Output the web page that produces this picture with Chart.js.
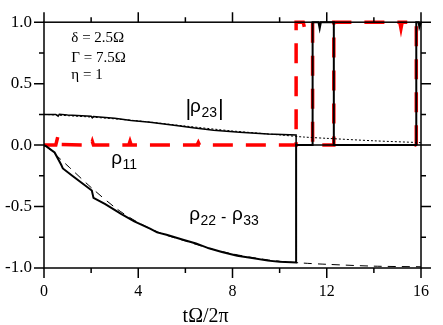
<!DOCTYPE html>
<html>
<head>
<meta charset="utf-8">
<script src="https://cdn.jsdelivr.net/npm/chart.js@4/dist/chart.umd.min.js"></script>
<style>
html,body{margin:0;padding:0;background:#fff;}
canvas{display:block;}
</style>
</head>
<body>
<canvas id="c" width="443" height="325"></canvas>
<script>
// ---- data ----
const xTicks = [0, 4, 8, 12, 16];
const yTicks = [-1.0, -0.5, 0.0, 0.5, 1.0];

// rho22 - rho33 (simulation, solid thick black)
const diffT = [0,0.1,0.45,0.73,0.8,1.2,2.03,2.1,2.6,3.27,3.83,4.5,4.8,5.2,5.9,6.45,7.0,7.55,8.2,8.9,9.5,10.0,10.7,10.7,11.4,11.4,11.65,11.7,11.75,12.3,12.3,15.8,15.8,15.9,15.93,16];
const diffV = [0,-0.01,-0.06,-0.16,-0.19,-0.25,-0.37,-0.43,-0.48,-0.56,-0.62,-0.68,-0.71,-0.73,-0.77,-0.80,-0.84,-0.87,-0.90,-0.92,-0.94,-0.95,-0.955,0,0,1,1,0.95,1,1,0,0,1,1,0.96,1];

// |rho23| (simulation, solid black)
const cohT = [0,0.5,0.6,0.65,1.0,2.0,2.05,2.1,3.0,3.7,4.5,5.6,6.4,7.2,8.3,9.5,10.7,10.7,16];
const cohV = [0.25,0.25,0.235,0.25,0.245,0.235,0.222,0.232,0.218,0.20,0.185,0.16,0.14,0.12,0.105,0.09,0.083,0,0];

// rho11 (red dashed)
const r11T = [0,0.5,0.6,0.68,2.0,2.05,2.1,3.6,3.65,3.7,6.5,6.55,6.6,10.7,10.7,11.0,11.05,11.1,11.4,11.4,12.3,12.3,15.1,15.15,15.2,15.8,15.8,16];
const r11V = [0,0,0.08,0.005,0,0.03,0,0,0.03,0,0,0.02,0,0,1,1,0.96,1,1,0,0,1,1,0.95,1,1,0,0];

// |rho23| analytic (dotted)
const cohAT = [0,2,4,6,8,10,11,12,14,16];
const cohAV = [0.25,0.228,0.197,0.155,0.115,0.083,0.066,0.055,0.035,0.02];

// rho22 - rho33 analytic (dashed)
const diffAT = [0,0.1,1.07,2.03,3.1,4.0,5.0,6.0,7.0,8.0,9.0,10.0,11.0,12.0,14.0,16.0];
const diffAV = [0,-0.01,-0.18,-0.35,-0.52,-0.63,-0.72,-0.78,-0.84,-0.885,-0.92,-0.945,-0.96,-0.97,-0.985,-0.99];

const pts = (t, v) => t.map((x, i) => ({x: x, y: v[i]}));

const serif = "'Liberation Serif','Times New Roman',serif";
const sans = "'Liberation Sans',Arial,sans-serif";

const framePlugin = {
  id: 'frame',
  afterDraw(chart) {
    const ctx = chart.ctx, a = chart.chartArea;
    const xs = chart.scales.x, ys = chart.scales.y;
    ctx.save();
    ctx.strokeStyle = '#000';
    ctx.lineWidth = 1.5;
    ctx.strokeRect(a.left, a.top, a.right - a.left, a.bottom - a.top);
    ctx.beginPath();
    for (let v = 0; v <= 16; v += 2) {
      const px = xs.getPixelForValue(v);
      const L = (v % 4 === 0) ? 10 : 5;
      ctx.moveTo(px, a.bottom); ctx.lineTo(px, a.bottom + L);
      ctx.moveTo(px, a.top); ctx.lineTo(px, a.top - L);
    }
    for (let k = -4; k <= 4; k++) {
      const v = k * 0.25;
      const py = ys.getPixelForValue(v);
      const L = (k % 2 === 0) ? 10 : 5;
      ctx.moveTo(a.left, py); ctx.lineTo(a.left - L, py);
      ctx.moveTo(a.right, py); ctx.lineTo(a.right + L, py);
    }
    ctx.stroke();

    // annotations
    ctx.fillStyle = '#000';
    const X = v => xs.getPixelForValue(v), Y = v => ys.getPixelForValue(v);
    ctx.textBaseline = 'alphabetic';
    ctx.textAlign = 'left';
    ctx.font = '15px ' + serif;
    ctx.fillText('δ = 2.5Ω', X(1.16), Y(0.835));
    ctx.fillText('Γ = 7.5Ω', X(1.16), Y(0.675));
    ctx.fillText('η = 1', X(1.16), Y(0.535));

    function rho(x, y, sub) {
      ctx.font = '19px ' + sans;
      ctx.fillText('ρ', x, y);
      const w = ctx.measureText('ρ').width;
      ctx.font = '14px ' + sans;
      ctx.fillText(sub, x + w + 0.5, y + 5);
      return x + w + 0.5 + ctx.measureText(sub).width;
    }
    // |rho23|
    let bx = X(6.0), by = Y(0.27);
    ctx.font = '22px ' + sans;
    ctx.fillText('|', bx, by + 3);
    let e = rho(bx + ctx.measureText('|').width - 1, by, '23');
    ctx.font = '22px ' + sans;
    ctx.fillText('|', e + 1, by + 3);
    // rho11
    rho(X(2.85), Y(-0.155), '11');
    // rho22 - rho33
    let e2 = rho(X(6.16), Y(-0.61), '22');
    ctx.font = '16px ' + sans;
    ctx.fillText('-', e2 + 5, Y(-0.61) + 2);
    rho(e2 + 16, Y(-0.61), '33');

    // axis title
    ctx.font = '20px ' + serif;
    ctx.textAlign = 'center';
    ctx.fillText('tΩ/2π', X(6.86), a.bottom + 54);
    ctx.restore();
  }
};

new Chart(document.getElementById('c'), {
  type: 'line',
  data: {
    datasets: [
      {data: pts(diffT, diffV), borderColor: '#000', borderWidth: 2, pointRadius: 0, tension: 0, clip: false},
      {data: pts(cohT, cohV), borderColor: '#000', borderWidth: 1.5, pointRadius: 0, tension: 0, clip: false},
      {data: pts(cohAT, cohAV), borderColor: '#000', borderWidth: 1, borderDash: [2, 2], pointRadius: 0, tension: 0.3, clip: false},
      {data: pts(diffAT, diffAV), borderColor: '#000', borderWidth: 1, borderDash: [8, 6], pointRadius: 0, tension: 0.3, clip: false},
      {data: pts(r11T, r11V), borderColor: '#ff0000', borderWidth: 3.5, borderDash: [20, 13], pointRadius: 0, tension: 0, clip: false}
    ]
  },
  options: {
    responsive: false,
    devicePixelRatio: 1,
    animation: false,
    parsing: true,
    layout: {padding: {top: 11, right: 12, left: 0, bottom: 0}},
    plugins: {legend: {display: false}, tooltip: {enabled: false}},
    scales: {
      x: {
        type: 'linear', min: 0, max: 16,
        afterBuildTicks: s => { s.ticks = xTicks.map(v => ({value: v})); },
        ticks: {color: '#000', font: {family: serif, size: 16}, padding: 14, maxRotation: 0,
                callback: v => String(v)},
        grid: {display: false, drawTicks: false},
        border: {display: false},
        afterFit: s => { s.height = 57; }
      },
      y: {
        type: 'linear', min: -1, max: 1,
        afterBuildTicks: s => { s.ticks = yTicks.map(v => ({value: v})); },
        ticks: {color: '#000', font: {family: serif, size: 17}, padding: 12,
                callback: v => v.toFixed(1)},
        grid: {display: false, drawTicks: false},
        border: {display: false},
        afterFit: s => { s.width = 44; }
      }
    }
  },
  plugins: [framePlugin]
});
</script>
</body>
</html>
